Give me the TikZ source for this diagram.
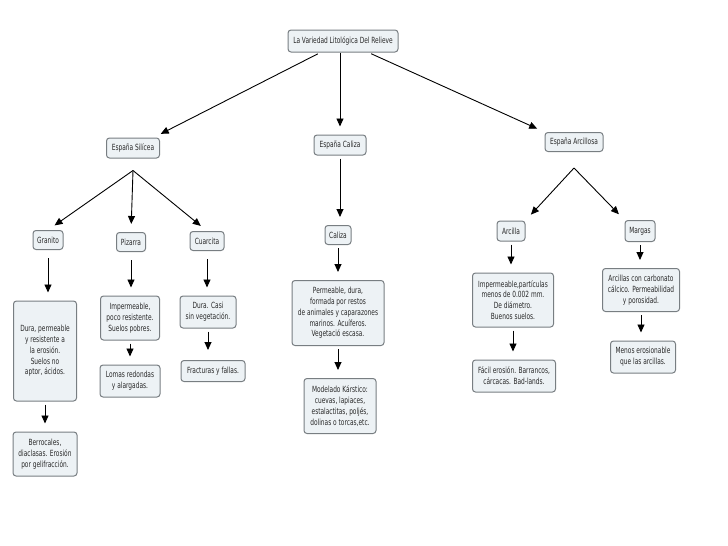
\documentclass[tikz,border=0pt]{standalone}
\usepackage{fontspec}
\newfontfamily\mapfont[FakeStretch=0.69]{DejaVu Sans}
\definecolor{boxfill}{RGB}{237,242,245}
\definecolor{boxline}{RGB}{120,126,130}
\definecolor{boxtext}{RGB}{40,40,40}
\usetikzlibrary{arrows.meta}
\tikzset{
  concept/.style={fill=boxfill, draw=boxline, line width=1pt, rounded corners=3pt,
    align=center, inner sep=1pt, text=boxtext, font=\mapfont\fontsize{8.5}{10.8}\selectfont},
  link/.style={-{Triangle[length=8pt,width=7pt]}, line width=0.9pt, shorten >=8pt, shorten <=3pt},
}

\begin{document}
\begin{tikzpicture}[x=1pt,y=-1pt]
  \useasboundingbox (0,0) rectangle (728,546);

  \node [concept, minimum width=110pt, minimum height=22pt] (root) at (343,41) {La Variedad Litológica Del Relieve};

  \node [concept, minimum width=53pt, minimum height=20pt] (sil) at (133,148) {España Silícea};
  \node [concept, minimum width=52pt, minimum height=20pt] (cal) at (340,145) {España Caliza};
  \node [concept, minimum width=58pt, minimum height=19pt] (arc) at (574,142) {España Arcillosa};

  \node [concept, minimum width=30pt, minimum height=19pt] (gra) at (48,240) {Granito};
  \node [concept, minimum width=29pt, minimum height=19pt] (piz) at (131,242) {Pizarra};
  \node [concept, minimum width=34pt, minimum height=19pt] (cua) at (207,241) {Cuarcita};
  \node [concept, minimum width=26pt, minimum height=19pt] (calz) at (338,235) {Caliza};
  \node [concept, minimum width=28pt, minimum height=20pt] (arcl) at (511,231) {Arcilla};
  \node [concept, minimum width=30pt, minimum height=21pt] (mar) at (640,231) {Margas};

  \node [concept, minimum width=63pt, minimum height=100pt] (gradesc) at (45,351) {Dura, permeable\\y resistente a\\la erosión.\\Suelos no\\aptor, ácidos.};
  \node [concept, minimum width=64pt, minimum height=44pt] (grarel) at (45,454) {Berrocales,\\diaclasas. Erosión\\por gelifracción.};
  \node [concept, minimum width=59pt, minimum height=44pt] (pizdesc) at (130,318) {Impermeable,\\poco resistente.\\Suelos pobres.};
  \node [concept, minimum width=60pt, minimum height=32pt] (pizrel) at (130,381) {Lomas redondas\\y alargadas.};
  \node [concept, minimum width=56pt, minimum height=32pt] (cuadesc) at (208,312) {Dura. Casi\\sin vegetación.};
  \node [concept, minimum width=64pt, minimum height=21pt] (cuarel) at (213,371) {Fracturas y fallas.};
  \node [concept, minimum width=92pt, minimum height=65pt] (calzdesc) at (338,313) {Permeable, dura,\\formada por restos\\de animales y caparazones\\marinos. Acuíferos.\\Vegetació escasa.};
  \node [concept, minimum width=72pt, minimum height=55pt] (calzrel) at (340,406) {Modelado Kárstico:\\cuevas, lapiaces,\\estalactitas, poljés,\\dolinas o torcas,etc.};
  \node [concept, minimum width=81pt, minimum height=54pt] (arcldesc) at (513,300) {Impermeable,partículas\\menos de 0.002 mm.\\De diámetro.\\Buenos suelos.};
  \node [concept, minimum width=83pt, minimum height=32pt] (arclrel) at (514,376) {Fácil erosión. Barrancos,\\cárcacas. Bad-lands.};
  \node [concept, minimum width=77pt, minimum height=43pt] (mardesc) at (641,290) {Arcillas con carbonato\\cálcico. Permeabilidad\\y porosidad.};
  \node [concept, minimum width=65pt, minimum height=32pt] (marrel) at (643,357) {Menos erosionable\\que las arcillas.};

  % forks below the group nodes
  \coordinate (silfork) at ([yshift=-12pt]sil.south);
  \coordinate (arcfork) at ([yshift=-16pt]arc.south);

  % top level
  \draw [link] (root) -- (sil);
  \draw [link, shorten <=0pt] (cal |- root.south) -- (cal);
  \draw [link] (root) -- (arc.north west);

  % España Silícea
  \draw [link, shorten <=0pt] (silfork) -- (gra.north);
  \draw [link, shorten <=0pt] (silfork) -- (piz.north);
  \draw [link, shorten <=0pt] (silfork) -- (cua.north);
  \draw [link, shorten <=8pt] (gra.south) -- (gra.south |- gradesc.north);
  \draw [link] (gradesc.south) -- (gradesc.south |- grarel.north);
  \draw [link, shorten <=8pt] (piz.south) -- (piz.south |- pizdesc.north);
  \draw [link] (pizdesc.south) -- (pizdesc.south |- pizrel.north);
  \draw [link, shorten <=8pt] (cua.south) -- (cua.south |- cuadesc.north);
  \draw [link, shorten >=10pt] (cuadesc.south) -- (cuadesc.south |- cuarel.north);

  % España Caliza
  \draw [link] (cal.south) -- (cal.south |- calz.north);
  \draw [link] (calz.south) -- (calz.south |- calzdesc.north);
  \draw [link] (calzdesc.south) -- (calzdesc.south |- calzrel.north);

  % España Arcillosa
  \draw [link, shorten <=0pt] (arcfork) -- (arcl.north east);
  \draw [link, shorten <=0pt] (arcfork) -- (mar.north west);
  \draw [link] (arcl.south) -- (arcl.south |- arcldesc.north);
  \draw [link] (arcldesc.south) -- (arcldesc.south |- arclrel.north);
  \draw [link] (mar.south) -- (mar.south |- mardesc.north);
  \draw [link] (mardesc.south) -- (mardesc.south |- marrel.north);

\end{tikzpicture}
\end{document}
